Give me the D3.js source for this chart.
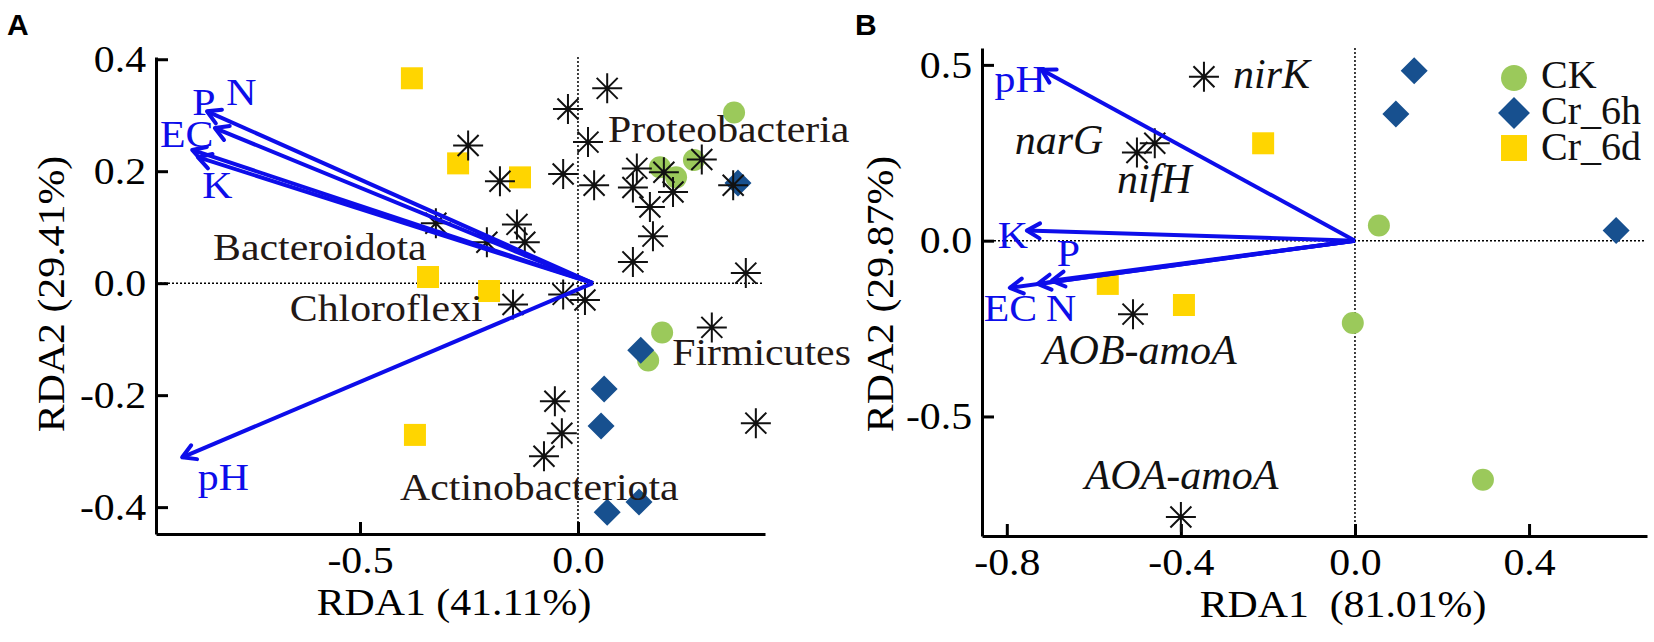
<!DOCTYPE html>
<html>
<head>
<meta charset="utf-8">
<script src="https://cdn.jsdelivr.net/npm/d3@7"></script>
<style>
  body { margin: 0; background: #fff; }
</style>
</head>
<body>
<div id="chart"></div>
<script>
// ---- Panel A data (RDA of phyla) ----
const ckA = [[0.358, 0.305], [0.188, 0.207], [0.225, 0.189], [0.266, 0.220], [0.193, -0.088], [0.161, -0.138]];
const cr6hA = [[0.367, 0.179], [0.144, -0.120], [0.060, -0.189], [0.053, -0.255], [0.067, -0.409], [0.140, -0.391]];
const cr6dA = [[-0.381, 0.366], [-0.275, 0.214], [-0.133, 0.189], [-0.344, 0.011], [-0.204, -0.014], [-0.374, -0.271]];
const taxaA = [
  [0.067, 0.348], [-0.023, 0.311], [0.023, 0.252], [-0.252, 0.246], [-0.179, 0.182], [-0.034, 0.195],
  [0.037, 0.175], [0.135, 0.205], [0.126, 0.171], [0.197, 0.198], [0.284, 0.221], [0.218, 0.163],
  [0.165, 0.136], [0.172, 0.084], [0.126, 0.038], [0.356, 0.175], [-0.140, 0.105], [-0.122, 0.073],
  [-0.209, 0.073], [-0.326, 0.107], [0.385, 0.018], [-0.034, -0.020], [0.016, -0.030], [-0.149, -0.038],
  [0.307, -0.079], [0.408, -0.250], [-0.053, -0.211], [-0.037, -0.268], [-0.078, -0.309]
];
const envNamesA = ["N", "P", "EC", "K", "pH"];
const envTipsA = [[-0.851, 0.307], [-0.833, 0.277], [-0.885, 0.238], [-0.872, 0.225], [-0.908, -0.311]];
const envLabelsA = [[-0.807, 0.318], [-0.885, 0.300], [-0.959, 0.243], [-0.862, 0.152], [-0.872, -0.370]];
const envOriginA = [0.034, 0];
const phylaA = ["Bacteroidota", "Chloroflexi", "Proteobacteria", "Firmicutes", "Actinobacteriota"];
const phylaPosA = [[-0.837, 0.041], [-0.661, -0.068], [0.069, 0.252], [0.216, -0.146], [-0.408, -0.388]];

// ---- Panel B data (RDA of N-cycling genes) ----
const ckB = [[0.055, 0.043], [-0.005, -0.234], [0.294, -0.680]];
const cr6hB = [[0.136, 0.483], [0.094, 0.360], [0.600, 0.029]];
const cr6dB = [[-0.211, 0.277], [-0.568, -0.123], [-0.393, -0.183]];
const genesB = ["nirK", "narG", "nifH", "AOB-amoA", "AOA-amoA"];
const genePtsB = [[-0.347, 0.466], [-0.460, 0.277], [-0.501, 0.251], [-0.510, -0.209], [-0.400, -0.786]];
const geneLabelsB = [[-0.280, 0.434], [-0.782, 0.246], [-0.547, 0.137], [-0.717, -0.351], [-0.621, -0.706]];
const envNamesB = ["pH", "K", "P", "EC", "N"];
const envTipsB = [[-0.720, 0.486], [-0.754, 0.029], [-0.697, -0.114], [-0.793, -0.134], [-0.729, -0.123]];
const envLabelsB = [[-0.828, 0.423], [-0.821, -0.020], [-0.685, -0.071], [-0.853, -0.229], [-0.710, -0.229]];
const envOriginB = [0, 0];

const groups = ["CK", "Cr_6h", "Cr_6d"];
const groupColors = { "CK": "#9bc95b", "Cr_6h": "#17508f", "Cr_6d": "#ffd500" };

const W = 1654, H = 642;
const SX = 1.1; // original type is a bit wider than Liberation Serif
const blue = "#0d0dea";
const serif = "'Liberation Serif', 'Times New Roman', serif";
const fmt = (d) => d.toFixed(1);

const svg = d3.select("#chart").append("svg")
  .attr("width", W).attr("height", H)
  .attr("font-family", serif)
  .style("background", "#fff");

function stretchText(g, x, y, txt, size) {
  return g.append("text")
    .attr("transform", `translate(${x},${y}) scale(${SX},1)`)
    .attr("font-size", size)
    .text(txt);
}

function marker(g, type, cx, cy, big) {
  const k = big ? 1.18 : 1;
  if (type === "CK") {
    g.append("circle").attr("cx", cx).attr("cy", cy).attr("r", 11 * k).attr("fill", groupColors.CK);
  } else if (type === "Cr_6h") {
    const r = 13.5 * k;
    g.append("path")
      .attr("d", `M${cx},${cy - r}L${cx + r},${cy}L${cx},${cy + r}L${cx - r},${cy}Z`)
      .attr("fill", groupColors.Cr_6h);
  } else {
    const s = 22 * k;
    g.append("rect").attr("x", cx - s / 2).attr("y", cy - s / 2).attr("width", s).attr("height", s)
      .attr("fill", groupColors.Cr_6d);
  }
}

function star(g, cx, cy) {
  const a = 15, b = 10.5;
  g.append("path")
    .attr("d", `M${cx - a},${cy}H${cx + a}M${cx},${cy - a}V${cy + a}` +
      `M${cx - b},${cy - b}L${cx + b},${cy + b}M${cx - b},${cy + b}L${cx + b},${cy - b}`)
    .attr("stroke", "#111").attr("stroke-width", 2).attr("fill", "none");
}

function arrow(g, x0, y0, x1, y1) {
  const ang = Math.atan2(y1 - y0, x1 - x0);
  const L = 15, phi = Math.PI / 6;
  const ax = x1 - L * Math.cos(ang - phi), ay = y1 - L * Math.sin(ang - phi);
  const bx = x1 - L * Math.cos(ang + phi), by = y1 - L * Math.sin(ang + phi);
  g.append("line").attr("x1", x0).attr("y1", y0).attr("x2", x1).attr("y2", y1)
    .attr("stroke", blue).attr("stroke-width", 4);
  g.append("path").attr("d", `M${ax},${ay}L${x1},${y1}L${bx},${by}`)
    .attr("stroke", blue).attr("stroke-width", 4).attr("fill", "none")
    .attr("stroke-linecap", "round").attr("stroke-linejoin", "round");
}

function drawPanel(p) {
  const g = svg.append("g");
  const x = d3.scaleLinear().domain(p.xDomain).range(p.xRange);
  const y = d3.scaleLinear().domain(p.yDomain).range(p.yRange);

  // zero reference lines
  g.append("line").attr("x1", p.xRange[0]).attr("x2", p.xRange[1] - 3)
    .attr("y1", y(0)).attr("y2", y(0))
    .attr("stroke", "#000").attr("stroke-width", 1.5).attr("stroke-dasharray", "2,2");
  g.append("line").attr("x1", x(0)).attr("x2", x(0))
    .attr("y1", p.yRange[1]).attr("y2", p.yRange[0])
    .attr("stroke", "#000").attr("stroke-width", 1.5).attr("stroke-dasharray", "2,2");

  // axes with inward ticks
  const xAxis = g.append("g").attr("transform", `translate(0,${p.yRange[0]})`)
    .call(d3.axisBottom(x).tickValues(p.xTicks).tickFormat(fmt).tickSize(-12).tickSizeOuter(0).tickPadding(12));
  const yAxis = g.append("g").attr("transform", `translate(${p.xRange[0]},0)`)
    .call(d3.axisLeft(y).tickValues(p.yTicks).tickFormat(fmt).tickSize(-12).tickSizeOuter(0).tickPadding(9));
  [xAxis, yAxis].forEach((ax) => {
    ax.attr("font-family", serif).attr("font-size", 38);
    ax.select(".domain").attr("stroke-width", 3);
    ax.selectAll(".tick line").attr("stroke-width", 3);
    ax.selectAll(".tick text")
      .attr("fill", "#000")
      .attr("transform", `scale(${SX},1)`);
  });

  // samples
  p.ck.forEach((d) => marker(g, "CK", x(d[0]), y(d[1])));
  p.cr6d.forEach((d) => marker(g, "Cr_6d", x(d[0]), y(d[1])));
  p.cr6h.forEach((d) => marker(g, "Cr_6h", x(d[0]), y(d[1])));
  p.stars.forEach((d) => star(g, x(d[0]), y(d[1])));

  // environmental vectors
  p.envTips.forEach((d) => arrow(g, x(p.origin[0]), y(p.origin[1]), x(d[0]), y(d[1])));
  p.envNames.forEach((n, i) => {
    stretchText(g, x(p.envLabels[i][0]), y(p.envLabels[i][1]), n, 38).attr("fill", blue);
  });

  // axis titles
  stretchText(g, p.xTitlePos[0], p.xTitlePos[1], p.xTitle, 38)
    .attr("text-anchor", "middle").style("white-space", "pre");
  g.append("text")
    .attr("transform", `translate(${p.yTitlePos[0]},${p.yTitlePos[1]}) rotate(-90) scale(${SX},1)`)
    .attr("text-anchor", "middle").attr("font-size", 38)
    .text(p.yTitle);

  // panel letter
  g.append("text").attr("x", p.letterPos[0]).attr("y", p.letterPos[1])
    .attr("font-family", "'Liberation Sans', Arial, sans-serif").attr("font-weight", "bold")
    .attr("font-size", 30).text(p.letter);

  return { g, x, y };
}

// Panel A
const A = drawPanel({
  letter: "A", letterPos: [7, 35],
  xDomain: [-0.968, 0.429], xRange: [156, 765],
  yDomain: [-0.448, 0.404], yRange: [534, 57],
  xTicks: [-0.5, 0], yTicks: [-0.4, -0.2, 0, 0.2, 0.4],
  ck: ckA, cr6h: cr6hA, cr6d: cr6dA, stars: taxaA,
  envNames: envNamesA, envTips: envTipsA, envLabels: envLabelsA, origin: envOriginA,
  xTitle: "RDA1 (41.11%)", xTitlePos: [454, 615],
  yTitle: "RDA2 (29.41%)", yTitlePos: [64, 294]
});
phylaA.forEach((n, i) => {
  stretchText(A.g, A.x(phylaPosA[i][0]), A.y(phylaPosA[i][1]), n, 38).attr("fill", "#231815");
});

// Panel B
const B = drawPanel({
  letter: "B", letterPos: [855, 35],
  xDomain: [-0.857, 0.671], xRange: [982, 1647],
  yDomain: [-0.84, 0.548], yRange: [536, 48],
  xTicks: [-0.8, -0.4, 0, 0.4], yTicks: [-0.5, 0, 0.5],
  ck: ckB, cr6h: cr6hB, cr6d: cr6dB, stars: genePtsB,
  envNames: envNamesB, envTips: envTipsB, envLabels: envLabelsB, origin: envOriginB,
  xTitle: "RDA1  (81.01%)", xTitlePos: [1343, 617],
  yTitle: "RDA2 (29.87%)", yTitlePos: [893, 294]
});
genesB.forEach((n, i) => {
  B.g.append("text")
    .attr("x", B.x(geneLabelsB[i][0])).attr("y", B.y(geneLabelsB[i][1]))
    .attr("font-size", 42).attr("font-style", "italic").attr("fill", "#111")
    .text(n);
});

// Legend
const legend = svg.append("g").attr("transform", "translate(1514,78)");
groups.forEach((grp, i) => {
  const row = legend.append("g").attr("transform", `translate(0,${i * 35})`);
  marker(row, grp, 0, 0, true);
  row.append("text").attr("x", 27).attr("y", 10 + i * 1).attr("font-size", 40).attr("fill", "#111").text(grp);
});
</script>
</body>
</html>
